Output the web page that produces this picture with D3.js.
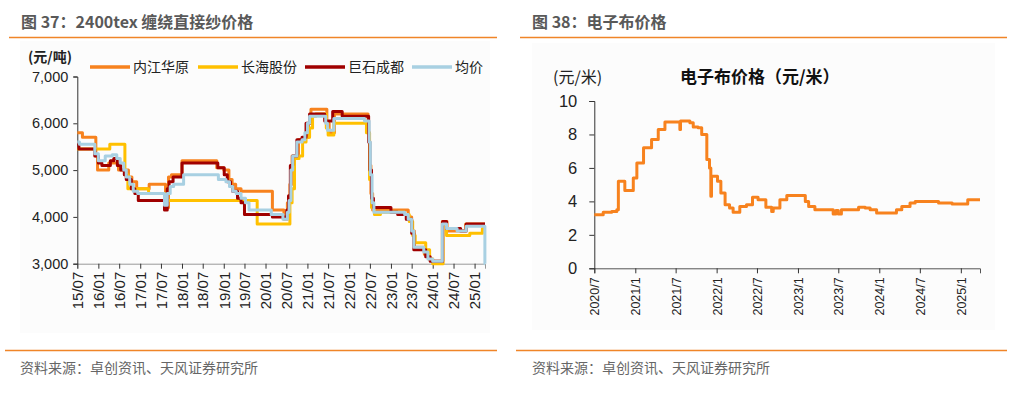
<!DOCTYPE html>
<html><head><meta charset="utf-8">
<script src="https://cdn.jsdelivr.net/npm/d3@7"></script>
<style>
body{margin:0;background:#fff;}
svg{display:block;font-family:"Liberation Sans","Noto Sans CJK SC",sans-serif;}
</style>
</head><body><svg id="c" width="1021" height="399"></svg>
<script>
// ---------- Left chart data: 2400tex 缠绕直接纱价格 (元/吨) ----------
const seriesNames = ["内江华原", "长海股份", "巨石成都", "均价"];
const seriesColors = ["#F7821E", "#FFC000", "#A00000", "#A8D0E2"];
const leftYTicks = [3000, 4000, 5000, 6000, 7000];
const neijiang = [["2015-07-01",5800],["2015-08-15",5700],["2015-12-10",5300],["2015-12-25",5000],["2016-04-01",5150],["2016-06-25",5000],["2016-09-20",4850],["2016-10-20",4750],["2016-12-01",4600],["2017-03-20",4700],["2017-08-10",4200],["2017-09-05",4850],["2017-10-01",4900],["2018-01-01",5200],["2018-11-01",5050],["2019-01-01",5000],["2019-02-15",4800],["2019-03-15",4700],["2019-04-15",4600],["2019-06-01",4550],["2020-03-01",4150],["2020-06-10",3950],["2020-07-10",4300],["2020-08-01",4700],["2020-08-20",5300],["2020-10-15",5650],["2020-12-10",5700],["2021-01-10",6000],["2021-02-01",6300],["2021-06-20",6000],["2021-07-10",5800],["2021-08-25",6200],["2022-06-15",5800],["2022-06-28",5100],["2022-07-10",4500],["2022-07-25",4150],["2023-06-01",4000],["2023-07-01",3700],["2023-07-25",3350],["2023-10-20",3200],["2023-12-01",3100],["2024-01-01",3050],["2024-03-25",3900],["2024-05-05",3700],["2024-10-15",3850],["2025-04-02",3850]];
const changhai = [["2015-07-01",5450],["2016-04-10",5550],["2016-08-20",4900],["2016-09-15",4600],["2017-03-15",4500],["2017-08-20",4350],["2019-10-20",3850],["2020-08-01",4300],["2020-08-20",4600],["2020-09-10",5250],["2020-10-20",5300],["2020-11-20",5600],["2020-12-20",5700],["2021-01-20",5900],["2021-02-15",6150],["2021-03-15",6200],["2021-06-15",5900],["2021-07-01",5750],["2021-08-20",6000],["2022-06-01",5800],["2022-06-28",4800],["2022-07-15",4200],["2022-08-10",4050],["2022-10-01",4100],["2023-05-01",4050],["2023-06-10",3900],["2023-07-10",3600],["2023-08-01",3450],["2023-11-01",3300],["2023-12-05",3100],["2024-01-01",3000],["2024-04-01",3850],["2024-05-01",3600],["2024-11-20",3650],["2025-03-10",3750],["2025-04-02",3750]];
const jushi = [["2015-07-01",5550],["2015-07-15",5450],["2015-12-01",5300],["2016-01-01",5150],["2016-02-01",5100],["2016-04-15",5200],["2016-05-15",5250],["2016-06-15",5100],["2016-07-15",5000],["2016-08-15",4900],["2016-09-01",4800],["2016-10-15",4600],["2016-11-15",4500],["2016-12-15",4350],["2017-08-01",4150],["2017-08-25",4600],["2017-09-10",4750],["2017-10-15",4850],["2018-01-01",5150],["2018-11-10",5050],["2019-01-05",4900],["2019-02-01",4750],["2019-03-01",4650],["2019-03-20",4550],["2019-05-01",4400],["2019-06-01",4300],["2019-07-01",4050],["2020-03-01",4000],["2020-07-05",4150],["2020-07-20",4450],["2020-08-05",5100],["2020-08-25",5300],["2020-10-01",5650],["2020-11-15",5700],["2020-12-20",6000],["2021-01-20",6200],["2021-06-01",6050],["2021-08-10",6250],["2021-11-01",6150],["2022-06-20",5600],["2022-07-01",5000],["2022-07-15",4400],["2022-08-01",4200],["2023-01-01",4100],["2023-03-01",4050],["2023-05-15",3950],["2023-07-01",3650],["2023-07-20",3300],["2023-11-01",3150],["2023-12-10",3050],["2024-03-28",3900],["2024-05-01",3750],["2024-09-01",3700],["2024-10-20",3850],["2025-04-02",3850]];
const average = [["2015-07-01",5600],["2015-07-20",5550],["2015-12-01",5350],["2016-01-01",5200],["2016-03-01",5300],["2016-05-01",5330],["2016-06-10",5250],["2016-07-10",5150],["2016-08-10",5000],["2016-09-01",4850],["2016-10-01",4700],["2016-11-01",4550],["2016-12-10",4500],["2017-08-01",4250],["2017-08-25",4500],["2017-09-20",4650],["2017-10-20",4700],["2018-01-15",4900],["2018-11-15",4800],["2019-01-20",4750],["2019-02-20",4650],["2019-03-20",4550],["2019-04-20",4500],["2019-06-01",4400],["2019-07-10",4300],["2019-08-10",4150],["2020-02-20",4050],["2020-06-01",3950],["2020-07-10",4100],["2020-07-25",4350],["2020-08-10",5000],["2020-08-25",5300],["2020-10-01",5600],["2020-11-15",5650],["2020-12-10",5800],["2021-01-01",6000],["2021-01-20",6150],["2021-06-10",6000],["2021-06-25",5850],["2021-08-20",6100],["2022-05-15",6050],["2022-06-25",5600],["2022-07-05",4900],["2022-07-20",4300],["2022-08-05",4100],["2023-05-01",4050],["2023-06-01",3950],["2023-07-01",3700],["2023-07-20",3350],["2023-10-15",3250],["2023-11-20",3100],["2024-01-01",3050],["2024-03-25",3850],["2024-05-01",3750],["2024-08-01",3700],["2024-10-20",3800],["2025-03-28",3800],["2025-04-01",3000],["2025-04-02",3000]];

// ---------- Right chart data: 电子布价格 (元/米) ----------
const rightYTicks = [0, 2, 4, 6, 8, 10];
const dianzibu = [["2020-07-01",3.2],["2020-08-10",3.35],["2020-09-17",3.4],["2020-10-10",3.5],["2020-10-17",5.2],["2020-11-15",4.65],["2020-12-23",5.4],["2021-01-08",6.3],["2021-02-07",7.2],["2021-03-15",7.7],["2021-04-14",8.3],["2021-05-14",8.75],["2021-07-20",8.3],["2021-07-23",8.8],["2021-09-03",8.7],["2021-09-18",8.45],["2021-10-10",8.4],["2021-10-26",8.0],["2021-11-18",6.5],["2021-11-30",6.0],["2021-12-06",4.3],["2021-12-09",5.5],["2022-01-05",5.2],["2022-01-20",4.5],["2022-02-08",3.8],["2022-02-28",3.6],["2022-03-16",3.35],["2022-04-15",3.7],["2022-05-15",3.8],["2022-06-11",4.25],["2022-07-06",4.1],["2022-08-10",3.65],["2022-09-05",3.4],["2022-09-12",3.6],["2022-10-12",4.1],["2022-11-12",4.35],["2023-02-03",4.0],["2023-02-18",3.7],["2023-03-18",3.5],["2023-06-08",3.25],["2023-06-20",3.45],["2023-07-01",3.25],["2023-07-15",3.5],["2023-09-30",3.65],["2023-10-30",3.6],["2023-11-21",3.5],["2023-12-20",3.3],["2024-03-18",3.5],["2024-04-11",3.7],["2024-05-18",3.9],["2024-06-10",4.0],["2024-09-23",3.9],["2024-11-23",3.85],["2025-02-01",4.1],["2025-03-28",4.1]];

const parse = d3.timeParse("%Y-%m-%d");
const svg = d3.select("#c");

// ---------- frame ----------
const orange = "#F08528";
svg.append("rect").attr("x",20).attr("y",41).attr("width",470).attr("height",292).attr("fill","#fcfcfc");
svg.append("rect").attr("x",532).attr("y",43).attr("width",463).attr("height",287).attr("fill","#fcfcfc");
[[9,497],[520,1007]].forEach(([a,b])=>{
  svg.append("line").attr("x1",a).attr("x2",b).attr("y1",37.5).attr("y2",37.5).attr("stroke",orange).attr("stroke-width",1.5);
  svg.append("line").attr("x1",a-4).attr("x2",b).attr("y1",350.5).attr("y2",350.5).attr("stroke",orange).attr("stroke-width",1.5);
});
svg.append("text").attr("x",21).attr("y",28).attr("font-size",16).attr("font-weight","bold").attr("fill","#595959")
  .attr("font-family","'Noto Sans CJK SC',sans-serif").text("图 37：2400tex 缠绕直接纱价格");
svg.append("text").attr("x",532).attr("y",28).attr("font-size",16).attr("font-weight","bold").attr("fill","#595959")
  .attr("font-family","'Noto Sans CJK SC',sans-serif").text("图 38：电子布价格");
[20,532].forEach(x=>{
  svg.append("text").attr("x",x).attr("y",373).attr("font-size",14).attr("fill","#666")
    .attr("font-family","'Noto Sans CJK SC',sans-serif").text("资料来源：卓创资讯、天风证券研究所");
});

// ---------- left chart ----------
const xL = d3.scaleTime().domain([parse("2015-07-01"), parse("2025-04-02")]).range([77.3, 485]);
const yL = d3.scaleLinear().domain([3000, 7000]).range([263.7, 76.5]);
const gL = svg.append("g");
const xAxL = gL.append("g").attr("transform","translate(0,263.7)")
  .call(d3.axisBottom(xL).ticks(d3.timeMonth.every(6)).tickFormat(d3.timeFormat("%y/%m")).tickSizeOuter(0).tickSize(5));
xAxL.select(".domain").attr("stroke","#999");
xAxL.selectAll(".tick line").attr("stroke","#333");
xAxL.selectAll("text").attr("font-size",15).attr("fill","#222").attr("font-family","'Liberation Sans',sans-serif")
  .attr("transform","rotate(-90)").attr("text-anchor","end").attr("x",-8).attr("y",0).attr("dy","0.35em");
const yAxL = gL.append("g").attr("transform","translate(77.3,0)")
  .call(d3.axisLeft(yL).tickValues(leftYTicks).tickFormat(d3.format(",")).tickSizeOuter(0).tickSize(4));
yAxL.select(".domain").attr("stroke","#333");
yAxL.selectAll(".tick line").attr("stroke","#333");
yAxL.selectAll("text").attr("font-size",14.5).attr("fill","#222").attr("x",-9).attr("font-family","'Liberation Sans',sans-serif");
gL.append("text").attr("x",28).attr("y",62).attr("font-size",14).attr("font-weight","bold").attr("fill","#222")
  .attr("font-family","'Noto Sans CJK SC',sans-serif").text("(元/吨)");

const lineL = d3.line().x(d=>xL(parse(d[0]))).y(d=>yL(d[1])).curve(d3.curveStepAfter);
[neijiang, changhai, jushi, average].forEach((s,i)=>{
  gL.append("path").datum(s).attr("d",lineL).attr("fill","none").attr("stroke",seriesColors[i])
    .attr("stroke-width",3).attr("stroke-linejoin","round");
});
// legend
const legX = [90, 198, 305, 412];
seriesNames.forEach((n,i)=>{
  gL.append("line").attr("x1",legX[i]).attr("x2",legX[i]+40).attr("y1",67).attr("y2",67)
    .attr("stroke",seriesColors[i]).attr("stroke-width",3.5);
  gL.append("text").attr("x",legX[i]+43).attr("y",72).attr("font-size",14).attr("fill","#222")
    .attr("font-family","'Noto Sans CJK SC',sans-serif").text(n);
});

// ---------- right chart ----------
const xR = d3.scaleTime().domain([parse("2020-07-01"), parse("2025-03-28")]).range([594.3, 980]);
const yR = d3.scaleLinear().domain([0, 10]).range([268.3, 101]);
const gR = svg.append("g");
const xAxR = gR.append("g").attr("transform","translate(0,268.3)")
  .call(d3.axisBottom(xR).ticks(d3.timeMonth.every(6)).tickFormat(d=>d3.timeFormat("%Y/")(d)+(d.getMonth()+1)).tickSizeOuter(0).tickSize(5));
xAxR.select(".domain").attr("stroke","#555");
xAxR.selectAll(".tick line").attr("stroke","#333");
xAxR.selectAll("text").attr("font-size",12.5).attr("fill","#222").attr("font-family","'Liberation Sans',sans-serif")
  .attr("transform","rotate(-90)").attr("text-anchor","end").attr("x",-9).attr("y",0).attr("dy","0.35em");
const yAxR = gR.append("g").attr("transform","translate(594.3,0)")
  .call(d3.axisLeft(yR).tickValues(rightYTicks).tickSizeOuter(0).tickSize(5));
yAxR.select(".domain").attr("stroke","#333");
yAxR.selectAll(".tick line").attr("stroke","#333");
yAxR.selectAll("text").attr("font-size",16.5).attr("fill","#222").attr("x",-17).attr("font-family","'Liberation Sans',sans-serif");
gR.append("text").attr("x",553).attr("y",83).attr("font-size",16).attr("fill","#222")
  .attr("font-family","'Noto Sans CJK SC',sans-serif").text("(元/米)");
gR.append("text").attr("x",680).attr("y",83).attr("font-size",17).attr("font-weight","bold").attr("fill","#111")
  .attr("font-family","'Noto Sans CJK SC',sans-serif").text("电子布价格（元/米）");
const lineR = d3.line().x(d=>xR(parse(d[0]))).y(d=>yR(d[1])).curve(d3.curveStepAfter);
gR.append("path").datum(dianzibu).attr("d",lineR).attr("fill","none").attr("stroke","#F7821E")
  .attr("stroke-width",3).attr("stroke-linejoin","round");
</script></body></html>
